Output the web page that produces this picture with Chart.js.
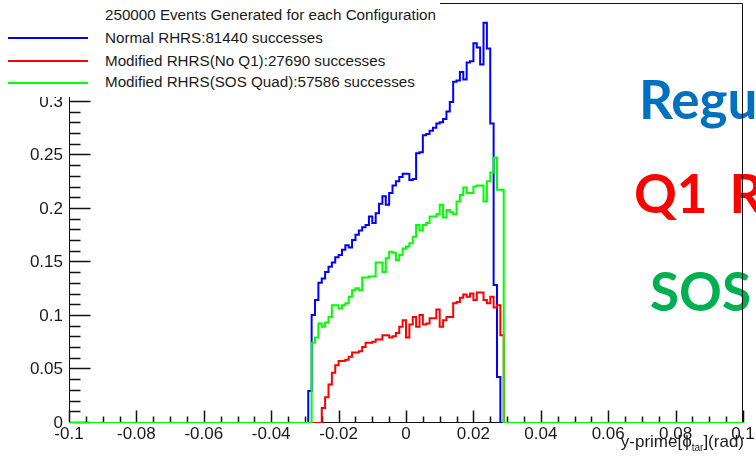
<!DOCTYPE html>
<html>
<head>
<meta charset="utf-8">
<script src="https://cdn.jsdelivr.net/npm/chart.js@4.4.1/dist/chart.umd.min.js"></script>
<style>
  html, body { margin: 0; padding: 0; background: #fff; }
  #wrap { position: relative; width: 756px; height: 462px; overflow: hidden; background: #fff; }
  #c { position: absolute; left: 0; top: 0; z-index: 2; }
  .big { position: absolute; z-index: 1; font-family: Lato, "Open Sans", sans-serif; font-weight: bold; font-size: 53px; line-height: 53px; white-space: nowrap; }
  #leg { position: absolute; left: 0; top: 0; width: 440px; height: 97px; background: #fff; z-index: 3;
         font-family: "Liberation Sans", Arial, sans-serif; font-size: 15.2px; color: #1a1a1a; }
  #leg .t { position: absolute; left: 105px; line-height: 18px; white-space: nowrap; }
  #leg .s { position: absolute; left: 8px; width: 80px; height: 2px; }
  #xtitle { position: absolute; right: 12px; top: 432px; z-index: 3; font-family: "Liberation Sans", Arial, sans-serif;
            font-size: 17px; line-height: 20px; color: #1a1a1a; white-space: nowrap; }
  #xtitle sub { font-size: 10px; vertical-align: -4px; line-height: 0; }
</style>
</head>
<body>
<div id="wrap">
  <div class="big" style="color:#0070C0;left:639px;top:72px">Regu</div>
  <div class="big" style="color:#FF0000;left:634px;top:166px;word-spacing:9px">Q1 R</div>
  <div class="big" style="color:#00B050;left:650px;top:264px">SOS</div>
  <canvas id="c" width="756" height="462"></canvas>
  <div id="leg"></div>
  <div id="xtitle">y-prime[ϕ<sub>tar</sub>](rad)</div>
</div>
<script>
// ---------------- data ----------------
const legendTitle = '250000 Events Generated for each Configuration';
const seriesNames = [
  'Normal RHRS:81440 successes',
  'Modified RHRS(No Q1):27690 successes',
  'Modified RHRS(SOS Quad):57586 successes'
];
const seriesColors = ['#0000ff', '#ff0000', '#00ff00'];

// histogram: bin width 0.001, first listed bin starts at -0.029 (all other bins in [-0.1, 0.1] are empty)
const histLow = -0.1, histHigh = 0.1;
const binStart = -0.029, binWidth = 0.001;

const normalRHRS = [0.030, 0.101, 0.115, 0.131, 0.135, 0.141, 0.146, 0.150, 0.155, 0.157,
  0.162, 0.166, 0.164, 0.171, 0.176, 0.180, 0.183, 0.185, 0.193, 0.187,
  0.196, 0.205, 0.212, 0.204, 0.215, 0.222, 0.226, 0.230, 0.233, 0.233,
  0.227, 0.228, 0.252, 0.253, 0.269, 0.270, 0.273, 0.276, 0.280, 0.281,
  0.284, 0.291, 0.300, 0.319, 0.320, 0.328, 0.321, 0.337, 0.338, 0.355,
  0.351, 0.335, 0.374, 0.350, 0.280, 0.129, 0.043, 0.000];

const noQ1RHRS = [0, 0, 0, 0, 0.014, 0.024, 0.036, 0.047, 0.054, 0.058,
  0.058, 0.059, 0.062, 0.066, 0.066, 0.067, 0.071, 0.075, 0.075, 0.076,
  0.078, 0.078, 0.082, 0.082, 0.080, 0.081, 0.084, 0.090, 0.096, 0.080,
  0.092, 0.099, 0.090, 0.101, 0.092, 0.093, 0.098, 0.098, 0.106, 0.090,
  0.096, 0.099, 0.099, 0.112, 0.113, 0.117, 0.120, 0.118, 0.121, 0.115,
  0.122, 0.122, 0.115, 0.112, 0.118, 0.108, 0.110, 0.082];

const sosQuadRHRS = [0, 0.075, 0.080, 0.093, 0.090, 0.094, 0.099, 0.110, 0.110, 0.107,
  0.110, 0.112, 0.118, 0.124, 0.126, 0.124, 0.136, 0.136, 0.137, 0.137,
  0.150, 0.150, 0.141, 0.154, 0.160, 0.159, 0.152, 0.157, 0.163, 0.165,
  0.168, 0.174, 0.185, 0.180, 0.185, 0.187, 0.193, 0.193, 0.195, 0.204,
  0.192, 0.199, 0.197, 0.195, 0.207, 0.213, 0.220, 0.215, 0.215, 0.221,
  0.222, 0.222, 0.207, 0.226, 0.234, 0.248, 0.218, 0.218];

const xTickLabels = ['-0.1', '-0.08', '-0.06', '-0.04', '-0.02', '0', '0.02', '0.04', '0.06', '0.08', '0.1'];
const yTickLabels = ['0', '0.05', '0.1', '0.15', '0.2', '0.25', '0.3', '0.35'];
const yMax = 0.3925;

// ---------------- legend (HTML) ----------------
(function () {
  const leg = document.getElementById('leg');
  const tops = [6, 29, 52, 73];
  const lineTops = [37.3, 59.7, 81.5];
  const t = document.createElement('div');
  t.className = 't'; t.style.top = tops[0] + 'px'; t.textContent = legendTitle;
  leg.appendChild(t);
  seriesNames.forEach((n, i) => {
    const s = document.createElement('div');
    s.className = 's'; s.style.top = lineTops[i] + 'px'; s.style.background = seriesColors[i];
    leg.appendChild(s);
    const d = document.createElement('div');
    d.className = 't'; d.style.top = tops[i + 1] + 'px'; d.textContent = n;
    leg.appendChild(d);
  });
})();

// ---------------- chart ----------------
function histPoints(vals) {
  const pts = [{ x: histLow, y: 0 }];
  vals.forEach((v, k) => pts.push({ x: binStart + k * binWidth, y: v }));
  pts.push({ x: binStart + vals.length * binWidth, y: 0 });
  pts.push({ x: histHigh, y: 0 });
  return pts;
}

const framePlugin = {
  id: 'rootFrame',
  beforeDatasetsDraw(chart) {
    const { ctx, chartArea: a, scales: { x, y } } = chart;
    ctx.save();
    ctx.strokeStyle = '#111';
    ctx.lineWidth = 1;
    const L = Math.round(a.left) + 0.5, R = Math.round(a.right) - 0.5;
    const T = Math.round(a.top) + 0.5, B = Math.round(a.bottom) - 0.5;
    ctx.beginPath();
    ctx.moveTo(L, T); ctx.lineTo(R, T); ctx.lineTo(R, B); ctx.lineTo(L, B); ctx.closePath();
    ctx.stroke();
    ctx.lineWidth = 1.5;
    ctx.beginPath();
    for (let i = 0; i * 0.01 <= yMax + 1e-9; i++) {
      const py = Math.round(y.getPixelForValue(i * 0.01)) - 0.5;
      const len = (i % 5 === 0) ? 21 : 11;
      ctx.moveTo(L, py); ctx.lineTo(L + len, py);
    }
    for (let i = 0; i <= 40; i++) {
      const px = Math.round(x.getPixelForValue(histLow + i * 0.005)) + 0.5;
      const len = (i % 4 === 0) ? 12 : 6;
      ctx.moveTo(px, B); ctx.lineTo(px, B - len);
    }
    ctx.stroke();
    ctx.restore();
  }
};

const tickFont = { family: "'Liberation Sans', Arial, sans-serif", size: 17 };

new Chart(document.getElementById('c'), {
  type: 'line',
  data: {
    datasets: [
      { label: seriesNames[0], data: histPoints(normalRHRS), borderColor: seriesColors[0], order: 3 },
      { label: seriesNames[1], data: histPoints(noQ1RHRS), borderColor: seriesColors[1], order: 2 },
      { label: seriesNames[2], data: histPoints(sosQuadRHRS), borderColor: seriesColors[2], order: 1 }
    ].map(d => Object.assign(d, { stepped: true, borderWidth: 2, pointRadius: 0, fill: false, tension: 0 }))
  },
  options: {
    responsive: false,
    animation: false,
    devicePixelRatio: 1,
    layout: { padding: { top: 3, right: 13, left: 0, bottom: 0 } },
    plugins: { legend: { display: false }, tooltip: { enabled: false } },
    scales: {
      x: {
        type: 'linear', min: histLow, max: histHigh,
        grid: { display: false, drawTicks: false }, border: { display: false },
        afterBuildTicks: s => { s.ticks = xTickLabels.map(l => ({ value: parseFloat(l) })); },
        afterFit: s => { s.height = 39; s.paddingLeft = 0; s.paddingRight = 0; },
        ticks: { autoSkip: false, maxRotation: 0, padding: 1, color: '#1a1a1a', font: tickFont,
                 callback: (v, i) => xTickLabels[i] }
      },
      y: {
        type: 'linear', min: 0, max: yMax,
        grid: { display: false, drawTicks: false }, border: { display: false },
        afterBuildTicks: s => { s.ticks = yTickLabels.map(l => ({ value: parseFloat(l) })); },
        afterFit: s => { s.width = 69; s.paddingTop = 0; s.paddingBottom = 0; },
        ticks: { autoSkip: false, padding: 6, color: '#1a1a1a', font: tickFont,
                 callback: (v, i) => yTickLabels[i] }
      }
    }
  },
  plugins: [framePlugin]
});
</script>
</body>
</html>
